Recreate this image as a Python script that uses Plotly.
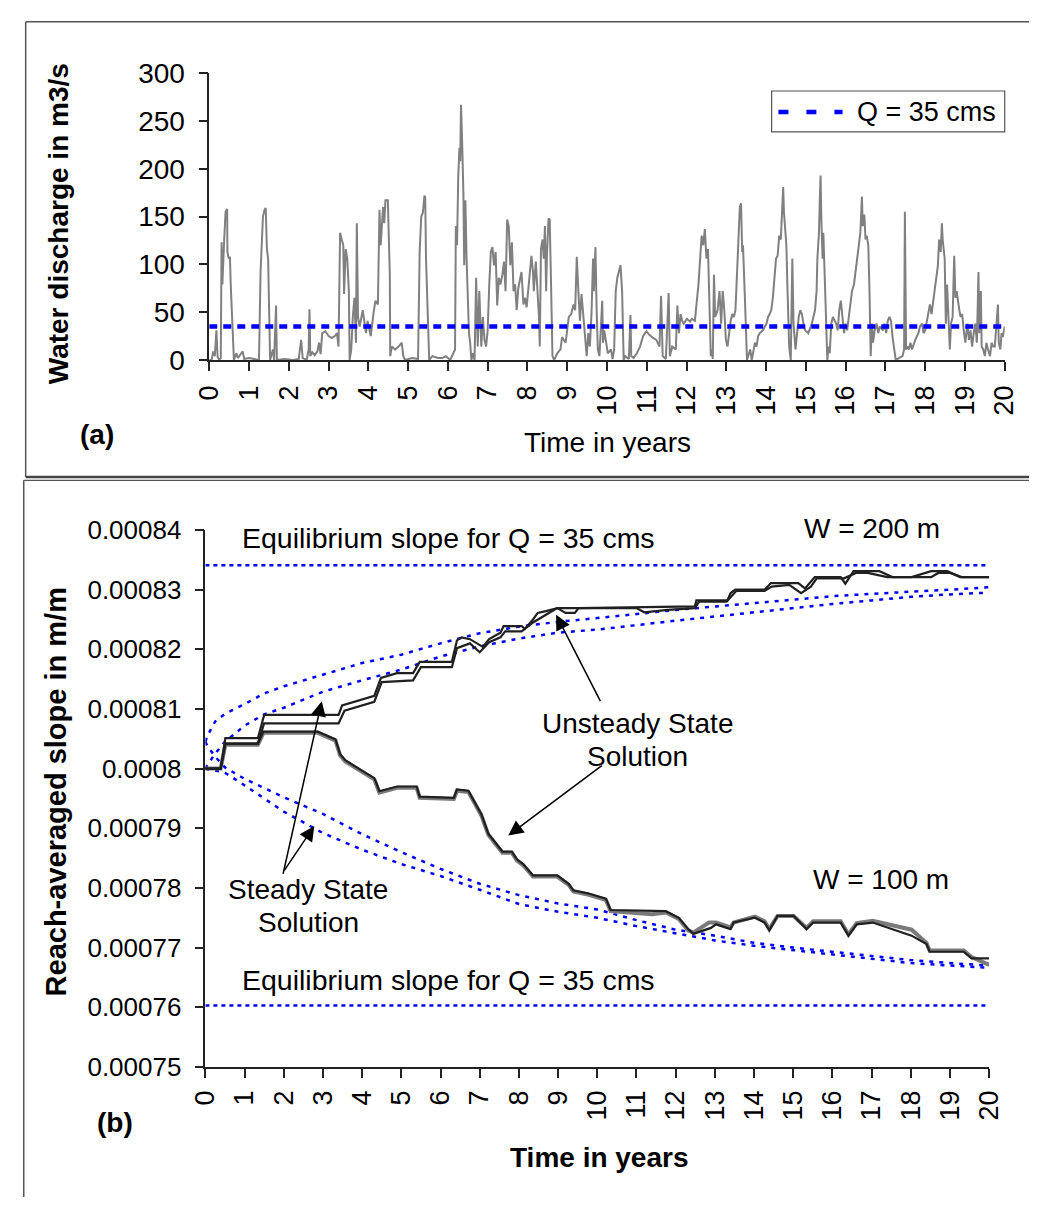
import plotly.graph_objects as go

# ------------------------------------------------------------------ data
YEAR_TICKS = list(range(0, 21))
Q_TICKS = [0, 50, 100, 150, 200, 250, 300]
SLOPE_TICKS = [0.00075, 0.00076, 0.00077, 0.00078, 0.00079, 0.00080,
               0.00081, 0.00082, 0.00083, 0.00084]
SLOPE_TICK_LABELS = ["0.00075", "0.00076", "0.00077", "0.00078", "0.00079",
                     "0.0008", "0.00081", "0.00082", "0.00083", "0.00084"]

Q_REF = 35            # cms
EQ_SLOPE_W200 = 0.0008341
EQ_SLOPE_W100 = 0.0007603

# daily water discharge, time in years / Q in m3/s
Q_T = [0, 0.06, 0.10, 0.14, 0.18, 0.21, 0.25, 0.29, 0.31, 0.33, 0.375, 0.41, 0.45, 0.457, 0.49, 0.52, 0.54, 0.57,
       0.60, 0.62, 0.68, 0.72, 0.84, 0.88, 1.00, 1.25, 1.29, 1.33, 1.35, 1.39, 1.42, 1.44, 1.45, 1.48, 1.50, 1.53,
       1.60, 1.63, 1.68, 1.70, 1.90, 2.10, 2.25, 2.31, 2.35, 2.45, 2.50, 2.52, 2.54, 2.59, 2.65, 2.72, 2.76, 2.80,
       2.84, 2.92, 3.00, 3.08, 3.16, 3.21, 3.25, 3.29, 3.33, 3.37, 3.39, 3.43, 3.47, 3.51, 3.53, 3.57, 3.61, 3.65,
       3.69, 3.71, 3.74, 3.78, 3.86, 3.90, 3.94, 3.98, 4.02, 4.06, 4.14, 4.18, 4.24, 4.28, 4.31, 4.35, 4.37, 4.40,
       4.43, 4.49, 4.51, 4.54, 4.55, 4.59, 4.67, 4.76, 4.84, 4.88, 4.92, 5.10, 5.25, 5.29, 5.33, 5.37, 5.41, 5.43,
       5.45, 5.49, 5.53, 5.61, 5.75, 5.86, 5.95, 6.06, 6.18, 6.20, 6.23, 6.26, 6.29, 6.31, 6.33, 6.36, 6.39, 6.41,
       6.44, 6.47, 6.49, 6.53, 6.56, 6.59, 6.63, 6.67, 6.71, 6.75, 6.79, 6.84, 6.88, 6.92, 6.96, 7.00, 7.04, 7.08,
       7.12, 7.16, 7.20, 7.24, 7.28, 7.32, 7.37, 7.41, 7.45, 7.49, 7.53, 7.57, 7.61, 7.65, 7.69, 7.73, 7.77, 7.81,
       7.85, 7.90, 7.94, 7.98, 8.02, 8.06, 8.10, 8.14, 8.16, 8.21, 8.25, 8.29, 8.31, 8.34, 8.38, 8.41, 8.44, 8.47,
       8.49, 8.53, 8.56, 8.60, 8.63, 8.67, 8.75, 8.83, 8.87, 8.96, 9.04, 9.10, 9.16, 9.20, 9.24, 9.28, 9.32, 9.36,
       9.40, 9.45, 9.49, 9.53, 9.57, 9.61, 9.65, 9.67, 9.71, 9.74, 9.77, 9.81, 9.85, 9.88, 9.90, 9.93, 9.98, 10.02,
       10.10, 10.14, 10.18, 10.22, 10.26, 10.30, 10.34, 10.38, 10.42, 10.46, 10.55, 10.59, 10.61, 10.67, 10.75,
       10.83, 10.91, 10.99, 11.07, 11.16, 11.24, 11.32, 11.36, 11.40, 11.48, 11.55, 11.58, 11.64, 11.73, 11.77,
       11.81, 11.85, 11.89, 11.93, 12.01, 12.09, 12.13, 12.21, 12.30, 12.38, 12.42, 12.46, 12.50, 12.54, 12.58,
       12.61, 12.64, 12.66, 12.69, 12.72, 12.78, 12.83, 12.87, 12.91, 12.95, 12.99, 13.03, 13.07, 13.11, 13.15,
       13.19, 13.23, 13.27, 13.31, 13.34, 13.37, 13.40, 13.42, 13.45, 13.49, 13.52, 13.56, 13.60, 13.64, 13.68,
       13.72, 13.76, 13.80, 13.84, 13.92, 14.01, 14.05, 14.09, 14.13, 14.17, 14.21, 14.25, 14.29, 14.33, 14.37,
       14.40, 14.43, 14.45, 14.48, 14.51, 14.54, 14.56, 14.58, 14.62, 14.66, 14.69, 14.74, 14.78, 14.82, 14.86,
       14.90, 14.94, 14.98, 15.06, 15.15, 15.23, 15.27, 15.29, 15.33, 15.35, 15.37, 15.39, 15.42, 15.44, 15.47,
       15.50, 15.54, 15.57, 15.60, 15.64, 15.68, 15.76, 15.80, 15.84, 15.88, 15.92, 15.96, 16.00, 16.04, 16.08,
       16.12, 16.16, 16.21, 16.25, 16.29, 16.33, 16.37, 16.41, 16.43, 16.47, 16.50, 16.53, 16.57, 16.60, 16.63,
       16.66, 16.69, 16.73, 16.78, 16.82, 16.86, 16.94, 16.98, 17.02, 17.06, 17.10, 17.14, 17.18, 17.22, 17.26,
       17.34, 17.43, 17.47, 17.49, 17.52, 17.55, 17.59, 17.63, 17.67, 17.75, 17.83, 17.87, 17.92, 17.96, 18.00,
       18.04, 18.08, 18.12, 18.16, 18.20, 18.24, 18.28, 18.32, 18.35, 18.39, 18.42, 18.44, 18.49, 18.52, 18.55,
       18.58, 18.62, 18.65, 18.69, 18.73, 18.76, 18.79, 18.83, 18.86, 18.89, 18.93, 18.97, 19.01, 19.06, 19.10,
       19.14, 19.18, 19.22, 19.26, 19.30, 19.34, 19.36, 19.40, 19.42, 19.46, 19.50, 19.54, 19.58, 19.63, 19.67,
       19.71, 19.75, 19.79, 19.83, 19.85, 19.89, 19.92, 19.95, 20.00]
Q_V = [0, 0, 9, 4, 31, 3, 0, 2, 123, 79, 125, 155, 158, 113, 106, 108, 79, 45,
       28, 0, 7, 2, 9, 1, 2, 0, 92, 130, 150, 157, 159, 130, 116, 106, 52, 0,
       11, 0, 57, 0, 1, 0, 1, 21, 2, 0, 11, 53, 4, 8, 5, 9, 18, 6,
       28, 30, 25, 23, 25, 28, 14, 133, 126, 120, 69, 116, 106, 72, 0, 11, 45, 65,
       18, 143, 45, 35, 52, 38, 28, 41, 31, 25, 52, 62, 58, 157, 120, 147, 160, 143,
       167, 167, 120, 89, 4, 14, 11, 14, 18, 4, 0, 2, 1, 113, 150, 154, 172, 170,
       106, 45, 0, 4, 2, 2, 4, 0, 11, 140, 120, 191, 222, 208, 267, 225, 174, 99,
       167, 106, 72, 28, 18, 0, 7, 0, 86, 14, 72, 14, 45, 21, 14, 31, 79, 113,
       118, 99, 113, 57, 86, 79, 89, 103, 72, 147, 140, 99, 123, 72, 79, 52, 75, 86,
       92, 58, 65, 55, 72, 86, 109, 92, 72, 103, 72, 45, 14, 116, 126, 106, 140, 72,
       109, 148, 147, 75, 4, 0, 7, 11, 24, 18, 45, 48, 58, 52, 108, 72, 41, 69,
       48, 18, 4, 28, 14, 48, 106, 72, 118, 52, 11, 4, 31, 62, 18, 31, 18, 7,
       11, 1, 11, 72, 86, 92, 99, 72, 0, 4, 1, 47, 4, 2, 7,
       14, 25, 30, 26, 23, 21, 14, 67, 4, 1, 70, 4, 14, 11, 57,
       28, 48, 41, 38, 43, 40, 43, 41, 79, 130, 120, 137, 106, 116, 55,
       4, 11, 1, 89, 45, 52, 72, 38, 72, 52, 21, 14, 28, 41, 48,
       45, 52, 89, 120, 160, 164, 113, 120, 92, 38, 0, 7, 11, 0, 11,
       18, 14, 25, 28, 31, 38, 45, 48, 52, 65, 89, 106, 109, 130, 126,
       154, 181, 154, 140, 120, 72, 52, 14, 0, 106, 38, 11, 28, 45, 52,
       48, 38, 31, 28, 38, 52, 72, 106, 133, 167, 193, 147, 106, 133, 89,
       72, 0, 14, 7, 38, 45, 38, 31, 52, 62, 45, 28, 38, 31, 45,
       58, 72, 79, 92, 106, 120, 133, 171, 140, 152, 126, 130, 120, 72, 4,
       38, 18, 31, 38, 28, 35, 31, 38, 28, 41, 45, 41, 24, 11, 0,
       2, 4, 11, 155, 11, 14, 11, 18, 11, 21, 28, 35, 38, 28, 31,
       41, 52, 58, 48, 62, 72, 86, 99, 126, 113, 143, 126, 106, 38, 79,
       52, 11, 38, 45, 109, 65, 72, 58, 52, 45, 48, 31, 18, 38, 21,
       31, 14, 28, 38, 18, 92, 28, 72, 14, 11, 4, 18, 11, 4, 18,
       14, 14, 35, 58, 18, 11, 28, 24, 35]

# steady state solutions (reach-averaged slope, m/m)
ST_T = [0, 0.05, 0.25, 0.5, 1, 1.5, 2, 3, 4, 5, 6, 7, 8, 9, 10, 11, 12, 13, 14, 15, 16, 17, 18, 19, 20]
STEADY_W200_A = [0.0008045, 0.0008055, 0.0008079, 0.0008092, 0.0008108, 0.0008126, 0.0008138, 0.0008158,
                 0.0008177, 0.0008191, 0.0008210, 0.0008227, 0.0008238, 0.0008246, 0.0008252, 0.0008259,
                 0.0008266, 0.0008272, 0.0008278, 0.0008284, 0.0008289, 0.0008293, 0.0008296, 0.0008300,
                 0.0008304]
STEADY_W200_B = [0.0008000, 0.0008006, 0.0008025, 0.0008045, 0.0008072, 0.0008091, 0.0008102, 0.0008129,
                 0.0008148, 0.0008166, 0.0008188, 0.0008205, 0.0008218, 0.0008228, 0.0008233, 0.0008241,
                 0.0008248, 0.0008255, 0.0008262, 0.0008270, 0.0008276, 0.0008282, 0.0008288, 0.0008292,
                 0.0008295]
STEADY_W100_A = [0.0008045, 0.0008038, 0.0008020, 0.0008002, 0.0007983, 0.0007967, 0.0007952, 0.0007924,
                 0.0007890, 0.0007860, 0.0007832, 0.0007807, 0.0007788, 0.0007774, 0.0007764, 0.0007746,
                 0.0007730, 0.0007720, 0.0007708, 0.0007700, 0.0007693, 0.0007686, 0.0007679, 0.0007674,
                 0.0007670]
STEADY_W100_B = [0.0008000, 0.0007999, 0.0007997, 0.0007993, 0.0007972, 0.0007950, 0.0007928, 0.0007892,
                 0.0007864, 0.0007840, 0.0007820, 0.0007797, 0.0007773, 0.0007760, 0.0007750, 0.0007736,
                 0.0007724, 0.0007712, 0.0007703, 0.0007696, 0.0007689, 0.0007682, 0.0007674, 0.0007670,
                 0.0007666]

# unsteady state solutions
W200_T1 = [0, 0.39, 0.51, 1.34, 1.50, 3.40, 3.49, 3.73, 4.31, 4.48, 4.89, 5.30, 5.47, 6.29, 6.42, 6.54, 6.75,
           7.08, 7.24, 7.53, 7.61, 8.07, 8.15, 8.36, 8.48, 8.69, 8.98, 9.19, 9.43, 9.52, 12.49, 12.53, 13.32,
           13.40, 13.52, 14.27, 14.43, 15.13, 15.30, 15.55, 16.21, 16.33, 16.54, 17.20, 17.53, 18.02, 18.52,
           18.93, 19.26, 20.0]
W200_S1 = [0.0008, 0.0008, 0.0008051, 0.0008051, 0.0008090, 0.0008090, 0.0008106, 0.0008111, 0.0008122,
           0.0008152, 0.0008160, 0.0008160, 0.0008179, 0.0008179, 0.0008215, 0.0008220, 0.0008217, 0.0008204,
           0.0008217, 0.0008228, 0.0008239, 0.0008239, 0.0008234, 0.0008250, 0.0008261, 0.0008264, 0.0008269,
           0.0008261, 0.0008261, 0.0008269, 0.0008272, 0.0008282, 0.0008282, 0.0008294, 0.0008300, 0.0008300,
           0.0008311, 0.0008311, 0.0008302, 0.0008321, 0.0008321, 0.0008310, 0.0008331, 0.0008331, 0.0008321,
           0.0008321, 0.0008331, 0.0008331, 0.0008321, 0.0008321]
W200_T2 = [0, 0.39, 0.51, 1.34, 1.50, 3.40, 3.55, 4.31, 4.50, 5.30, 5.50, 6.29, 6.42, 6.75, 7.00, 7.24, 7.53,
           7.65, 8.07, 8.36, 8.69, 8.98, 9.52, 11.0, 11.2, 11.8, 12.49, 12.6, 13.30, 13.45, 13.55, 14.27, 14.45,
           14.9, 15.2, 15.45, 15.6, 16.3, 16.6, 16.9, 17.4, 18.52, 18.7, 19.0, 19.3, 20.0]
W200_S2 = [0.0008, 0.0008, 0.0008042, 0.0008042, 0.0008076, 0.0008076, 0.0008097, 0.0008112, 0.0008145,
           0.0008148, 0.0008170, 0.0008170, 0.0008202, 0.0008210, 0.0008195, 0.0008212, 0.0008220, 0.0008230,
           0.0008230, 0.0008245, 0.0008258, 0.0008269, 0.0008269, 0.0008269, 0.0008262, 0.0008266, 0.0008269,
           0.0008280, 0.0008280, 0.0008290, 0.0008298, 0.0008298, 0.0008305, 0.0008308, 0.0008294, 0.0008305,
           0.0008319, 0.0008319, 0.0008328, 0.0008328, 0.0008321, 0.0008321, 0.0008328, 0.0008328, 0.0008321,
           0.0008321]

W100_T1 = [0, 0.39, 0.51, 1.34, 1.48, 2.87, 3.32, 3.44, 3.57, 4.31, 4.35, 4.44, 4.89, 5.39, 5.47, 6.34, 6.42,
           6.71, 7.04, 7.22, 7.58, 7.82, 7.95, 8.11, 8.36, 8.98, 9.27, 9.39, 9.76, 10.22, 10.34, 11.75, 12.08,
           12.32, 12.45, 12.90, 13.03, 13.40, 13.48, 14.02, 14.27, 14.39, 14.60, 15.01, 15.34, 15.51, 16.21,
           16.41, 16.62, 17.03, 18.02, 18.40, 18.48, 19.35, 19.55, 20.0]
W100_S1 = [0.0008, 0.0008, 0.0008042, 0.0008042, 0.0008062, 0.0008062, 0.0008049, 0.0008024, 0.0008014,
           0.0007984, 0.0007978, 0.0007962, 0.0007970, 0.0007970, 0.0007953, 0.0007951, 0.0007965, 0.0007963,
           0.0007924, 0.0007891, 0.0007861, 0.0007861, 0.0007848, 0.0007840, 0.0007821, 0.0007821, 0.0007807,
           0.0007796, 0.0007791, 0.0007782, 0.0007763, 0.0007761, 0.0007750, 0.0007731, 0.0007723, 0.0007733,
           0.0007739, 0.0007731, 0.0007742, 0.0007750, 0.0007742, 0.0007729, 0.0007753, 0.0007753, 0.0007731,
           0.0007742, 0.0007742, 0.0007720, 0.0007739, 0.0007742, 0.0007720, 0.0007706, 0.0007693, 0.0007693,
           0.0007682, 0.0007682]
W100_T2 = [0, 0.39, 0.51, 1.34, 1.48, 2.87, 3.32, 3.44, 3.57, 4.31, 4.44, 4.89, 5.39, 5.47, 6.34, 6.42, 6.71,
           7.04, 7.22, 7.58, 7.82, 7.95, 8.11, 8.36, 8.98, 9.27, 9.39, 9.76, 10.22, 10.34, 11.40, 11.75, 12.08,
           12.32, 12.45, 12.85, 13.03, 13.40, 13.48, 14.02, 14.27, 14.39, 14.60, 15.01, 15.34, 15.51, 16.21,
           16.41, 16.62, 17.03, 18.02, 18.40, 18.48, 19.35, 19.55, 20.0]
W100_S2 = [0.0008, 0.0008, 0.0008040, 0.0008040, 0.0008060, 0.0008060, 0.0008047, 0.0008022, 0.0008012,
           0.0007982, 0.0007960, 0.0007968, 0.0007968, 0.0007951, 0.0007949, 0.0007963, 0.0007961, 0.0007922,
           0.0007889, 0.0007859, 0.0007859, 0.0007846, 0.0007838, 0.0007819, 0.0007819, 0.0007805, 0.0007794,
           0.0007789, 0.0007780, 0.0007761, 0.0007756, 0.0007759, 0.0007748, 0.0007729, 0.0007725, 0.0007742,
           0.0007742, 0.0007734, 0.0007742, 0.0007752, 0.0007744, 0.0007731, 0.0007753, 0.0007753, 0.0007733,
           0.0007744, 0.0007744, 0.0007722, 0.0007741, 0.0007745, 0.0007730, 0.0007708, 0.0007695, 0.0007695,
           0.0007684, 0.0007671]

# ------------------------------------------------------------------ figure
W, H = 1044, 1213
FONT = "Liberation Sans, Arial, sans-serif"
BLUE = "#0000FF"
AX = "#222222"


def fx(p):
    return p / W


def fy(p):
    return 1 - p / H


fig = go.Figure()

# top panel
fig.add_trace(go.Scatter(x=Q_T, y=Q_V, mode="lines", line=dict(color="#808080", width=2),
                         xaxis="x", yaxis="y", showlegend=False, hoverinfo="skip"))
fig.add_trace(go.Scatter(x=[0, 20], y=[Q_REF, Q_REF], mode="lines",
                         line=dict(color=BLUE, width=4.5, dash="8px,6px"),
                         xaxis="x", yaxis="y", showlegend=False))

# bottom panel: equilibrium slopes
for v in (EQ_SLOPE_W200, EQ_SLOPE_W100):
    fig.add_trace(go.Scatter(x=[0, 20], y=[v, v], mode="lines",
                             line=dict(color=BLUE, width=2.5, dash="4px,4px"),
                             xaxis="x2", yaxis="y2", showlegend=False))
# steady state
for s in (STEADY_W200_A, STEADY_W200_B, STEADY_W100_A, STEADY_W100_B):
    fig.add_trace(go.Scatter(x=ST_T, y=s, mode="lines",
                             line=dict(color=BLUE, width=2.5, dash="4px,6px"),
                             xaxis="x2", yaxis="y2", showlegend=False))
# unsteady
fig.add_trace(go.Scatter(x=W100_T2, y=W100_S2, mode="lines", line=dict(color="#7a7a7a", width=4),
                         xaxis="x2", yaxis="y2", showlegend=False))
fig.add_trace(go.Scatter(x=W100_T1, y=W100_S1, mode="lines", line=dict(color="#202020", width=2.2),
                         xaxis="x2", yaxis="y2", showlegend=False))
fig.add_trace(go.Scatter(x=W200_T2, y=W200_S2, mode="lines", line=dict(color="#202020", width=2.2),
                         xaxis="x2", yaxis="y2", showlegend=False))
fig.add_trace(go.Scatter(x=W200_T1, y=W200_S1, mode="lines", line=dict(color="#202020", width=2.2),
                         xaxis="x2", yaxis="y2", showlegend=False))

axis_common = dict(showgrid=False, zeroline=False, showline=True, linecolor=AX, linewidth=1.5,
                   ticks="outside", ticklen=9, tickwidth=1.5, tickcolor=AX)


def tf(size):
    return dict(family=FONT, size=size, color="#000")


fig.update_layout(
    width=W, height=H,
    margin=dict(l=0, r=0, t=0, b=0),
    paper_bgcolor="white", plot_bgcolor="white",
    font=dict(family=FONT, color="#000"),
    xaxis=dict(domain=[fx(200), fx(1019)], anchor="y", range=[0, 20], tickvals=YEAR_TICKS,
               tickangle=-90, tickfont=tf(27), ticklabelstandoff=4, **axis_common),
    yaxis=dict(domain=[fy(354), fy(59.7)], anchor="x", range=[0, 300], tickvals=Q_TICKS,
               tickfont=tf(28), ticklabelstandoff=8, **axis_common),
    xaxis2=dict(domain=[fx(196), fx(1003)], anchor="y2", range=[0, 20], tickvals=YEAR_TICKS,
                tickangle=-90, tickfont=tf(27), ticklabelstandoff=2, **axis_common),
    yaxis2=dict(domain=[fy(1079.5), fy(528.5)], anchor="x2", range=[0.00075, 0.00084],
                tickvals=SLOPE_TICKS, ticktext=SLOPE_TICK_LABELS, tickfont=tf(26),
                ticklabelstandoff=8, **axis_common),
)

# frames
frame = dict(type="line", xref="paper", yref="paper")
shapes = [
    dict(frame, x0=fx(11), x1=1, y0=fy(7), y1=fy(7), line=dict(color="#555", width=1.5)),
    dict(frame, x0=fx(11), x1=fx(11), y0=fy(7), y1=fy(474), line=dict(color="#555", width=1.5)),
    dict(frame, x0=fx(11), x1=1, y0=fy(474), y1=fy(474), line=dict(color="#444", width=2.5)),
    dict(frame, x0=fx(9), x1=1, y0=fy(477.5), y1=fy(477.5), line=dict(color="#555", width=1.2)),
    dict(frame, x0=fx(9), x1=fx(9), y0=fy(477.5), y1=0, line=dict(color="#555", width=1.5)),
    # legend box
    dict(type="rect", xref="paper", yref="paper", x0=fx(779), x1=fx(1019), y0=fy(120), y1=fy(78),
         line=dict(color="#555", width=1.2), fillcolor="white"),
    dict(type="line", xref="paper", yref="paper", x0=fx(786), x1=fx(852), y0=fy(99.5), y1=fy(99.5),
         line=dict(color=BLUE, width=4.5, dash="10px,18px")),
]
fig.update_layout(shapes=shapes)

ann = []


def text(x, y, s, size=28, bold=False, angle=0, xanchor="center"):
    ann.append(dict(xref="paper", yref="paper", x=fx(x), y=fy(y), text=f"<b>{s}</b>" if bold else s,
                    showarrow=False, xanchor=xanchor, yanchor="middle", textangle=angle,
                    font=dict(family=FONT, size=size, color="#000")))


text(865, 99.5, "Q = 35 cms", size=27, xanchor="left")
text(45, 214, "Water discharge in m3/s", size=28, bold=True, angle=-90)
text(610, 439, "Time in years", size=28)
text(84, 430, "(a)", size=28, bold=True)

text(42, 797, "Reach-averaged slope in m/m", size=29, bold=True, angle=-90)
text(601, 1172, "Time in years", size=28, bold=True)
text(103, 1137, "(b)", size=28, bold=True)
text(446, 537, "Equilibrium slope for Q = 35 cms", size=28.5)
text(446, 990, "Equilibrium slope for Q = 35 cms", size=28.5)
text(882, 527, "W = 200 m")
text(892, 887, "W = 100 m")
text(641, 727, "Unsteady State")
text(641, 761, "Solution")
text(302, 897, "Steady State")
text(302, 931, "Solution")


def arrow(tip_t, tip_s, ax, ay):
    ann.append(dict(xref="x2", yref="y2", x=tip_t, y=tip_s, ax=ax, ay=ay, text="", showarrow=True,
                    arrowhead=2, arrowsize=2, arrowwidth=1.5, arrowcolor="#000"))


arrow(8.95, 0.0008258, 45, 88)
arrow(7.73, 0.0007888, 95, -71)
arrow(2.97, 0.0008113, -39, 174)
arrow(2.78, 0.0007904, -31, 46)

fig.update_layout(annotations=ann)

fig.write_html("out.html")
